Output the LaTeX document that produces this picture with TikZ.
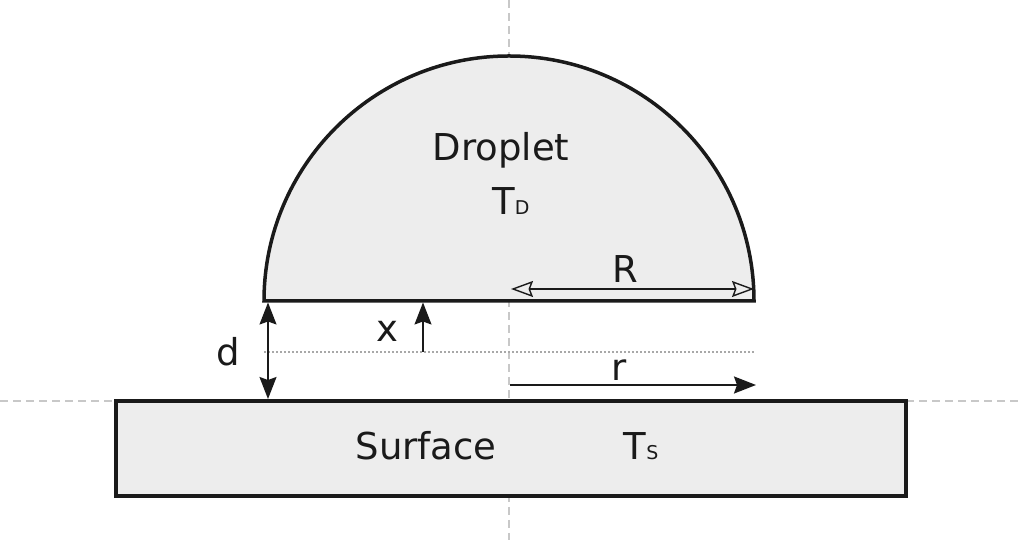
\documentclass[tikz,border=0pt]{standalone}
\usepackage{fontspec}
\setmainfont{DejaVu Sans}
\usetikzlibrary{arrows.meta}
\definecolor{shapefill}{HTML}{EDEDED}
\definecolor{ink}{HTML}{1A1A1A}
\definecolor{guide}{HTML}{C8C8C8}
\definecolor{dotgray}{HTML}{A8A8A8}
\tikzset{
  bigtext/.style={font=\fontsize{37}{40}\selectfont, text=ink, inner sep=0pt, anchor=base},
  guideline/.style={draw=guide, line width=2pt, dash pattern=on 8pt off 5pt},
  dotline/.style={draw=dotgray, line width=1.2pt, dash pattern=on 2pt off 2pt},
  filledarrow/.style={draw=ink, line width=1.6pt, -{Stealth[length=22pt,width=17pt,inset=3pt]}},
  filledboth/.style={draw=ink, line width=1.6pt, {Stealth[length=22pt,width=17pt,inset=3pt]}-{Stealth[length=22pt,width=17pt,inset=3pt]}},
  openboth/.style={draw=ink, line width=1.4pt, {Stealth[open,length=22pt,width=16pt,inset=3pt]}-{Stealth[open,length=22pt,width=16pt,inset=3pt]}},
  outline/.style={draw=ink, fill=shapefill, line join=miter}
}
\newcommand{\subsc}[1]{{\fontsize{19}{19}\selectfont #1}}
\begin{document}
\begin{tikzpicture}[x=1pt,y=1pt]
\useasboundingbox (0,0) rectangle (1020,540);
% guide lines
\coordinate (vtop) at (509,540);
\coordinate (vbot) at (509,0);
\coordinate (hl0) at (0,139);
\coordinate (hl1) at (116,139);
\coordinate (hr0) at (906,139);
\coordinate (hr1) at (1020,139);
\draw[guideline] (vtop) -- (vbot);
\draw[guideline] (hl0) -- (hl1);
\draw[guideline] (hr0) -- (hr1);
% surface
\draw[outline, line width=4pt] (116,44) rectangle (906,139);
% droplet
\draw[outline, line width=3.5pt] (264,239) arc[start angle=180,end angle=0,radius=245] -- cycle;
% dotted level line
\coordinate (dl0) at (264,188);
\coordinate (dl1) at (754,188);
\draw[dotline] (dl0) -- (dl1);
% arrows
\coordinate (dtop) at (268,237.5);
\coordinate (dbot) at (268,141);
\draw[filledboth] (dbot) -- (dtop);
\coordinate (xbot) at (423,188);
\coordinate (xtop) at (423,237.5);
\draw[filledarrow, line width=1.4pt] (xbot) -- (xtop);
\coordinate (Rl) at (511,251);
\coordinate (Rr) at (754,251);
\draw[openboth] (Rl) -- (Rr);
\coordinate (rl) at (510,155);
\coordinate (rr) at (756,155);
\draw[filledarrow, line width=2pt] (rl) -- (rr);
% texts
\node[bigtext] (droplet) at (501,379) {Droplet};
\node[bigtext] (td) at (511,325) {T\subsc{D}};
\node[bigtext] (surface) at (426,80) {Surface};
\node[bigtext] (ts) at (641,80) {T\subsc{S}};
\node[bigtext] (dlab) at (228,174) {d};
\node[bigtext] (xlab) at (387,198) {x};
\node[bigtext] (Rlab) at (625,257) {R};
\node[bigtext] (rlab) at (619,159) {r};
\end{tikzpicture}
\end{document}
